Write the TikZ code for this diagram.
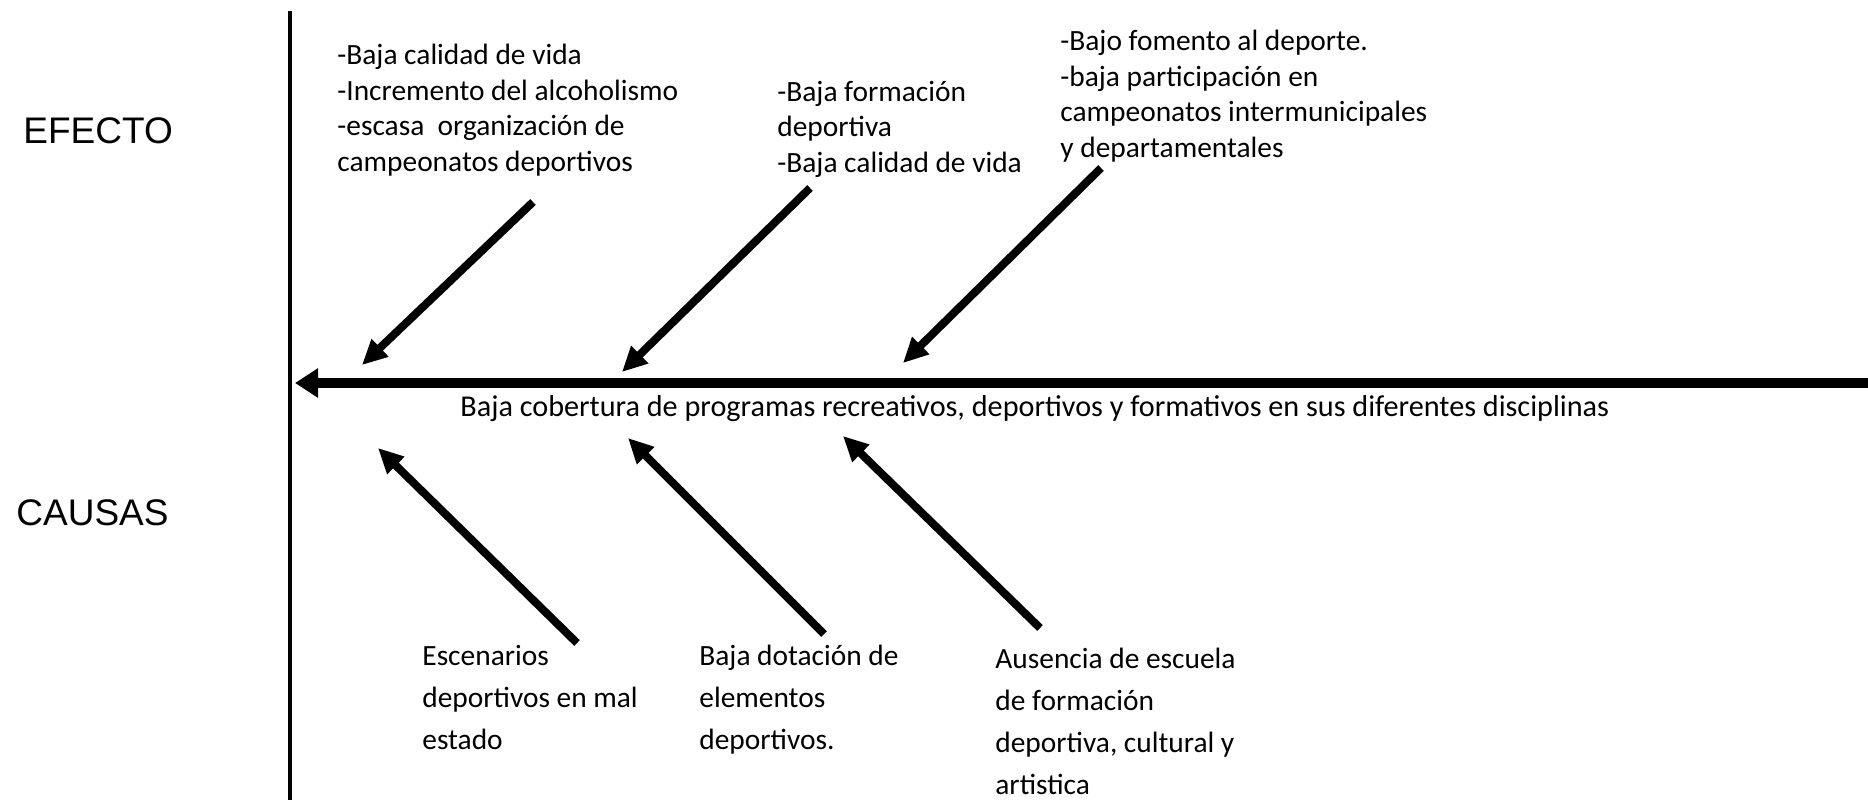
\documentclass[tikz,border=0pt]{standalone}
\usepackage{fontspec}
\setmainfont{Carlito}
\newfontfamily\arialfont{Liberation Sans}
\usetikzlibrary{arrows.meta, positioning}

\begin{document}
\begin{tikzpicture}[
  x=0.5pt, y=-0.5pt,
  efecto/.style={anchor=base west, align=left, inner sep=0pt, font=\fontsize{14.7pt}{17.75pt}\selectfont},
  causa/.style={anchor=base west, align=left, inner sep=0pt, font=\fontsize{14.7pt}{21pt}\selectfont},
  titulo/.style={anchor=base west, inner sep=0pt, font=\arialfont\fontsize{18.5pt}{22pt}\selectfont},
  eje/.style={line width=2.25pt, draw=black},
  espina/.style={-{Triangle[length=11.5pt, width=14pt]}, line width=5pt, draw=black},
  flecha/.style={-{Triangle[length=12.5pt, width=11.5pt]}, line width=4pt, draw=black}
]
\useasboundingbox (0,0) rectangle (1868,800);
% Titulos
\node[titulo] (tefecto) at (23,143) {EFECTO};
\node[titulo] (tcausas) at (16,525) {CAUSAS};
% Eje vertical y espina
\coordinate (ejeA) at (290,11);
\coordinate (ejeB) at (290,800);
\draw[eje] (ejeA) -- (ejeB);
\coordinate (espD) at (1868,383);
\coordinate (espI) at (295,383);
\draw[espina] (espD) -- (espI);
\node[anchor=base west, inner sep=0pt, font=\fontsize{15.1pt}{17.75pt}\selectfont] (problema) at (460,416) {Baja cobertura de programas recreativos, deportivos y formativos en sus diferentes disciplinas};
% Efectos (anclados en la linea base de la ultima linea)
\node[efecto] (ef1) at (337,171) {-Baja calidad de vida\\-Incremento del alcoholismo\\-escasa\ \ organización de\\campeonatos deportivos};
\node[efecto] (ef2) at (777,172) {-Baja formación\\deportiva\\-Baja calidad de vida};
\node[efecto] (ef3) at (1060,157) {-Bajo fomento al deporte.\\-baja participación en\\campeonatos intermunicipales\\y departamentales};
\coordinate (ef1a) at (533,202);
\coordinate (ef1b) at (362,365);
\coordinate (ef2a) at (810,188);
\coordinate (ef2b) at (622,372);
\coordinate (ef3a) at (1101,168);
\coordinate (ef3b) at (903,363);
\draw[flecha] (ef1a) -- (ef1b);
\draw[flecha] (ef2a) -- (ef2b);
\draw[flecha] (ef3a) -- (ef3b);
% Causas
\node[causa] (ca1) at (422,749) {Escenarios\\deportivos en mal\\estado};
\node[causa] (ca2) at (699,749) {Baja dotación de\\elementos\\deportivos.};
\node[causa] (ca3) at (995,794) {Ausencia de escuela\\de formación\\deportiva, cultural y\\artistica};
\coordinate (ca1a) at (577,643);
\coordinate (ca1b) at (378,448);
\coordinate (ca2a) at (824,634);
\coordinate (ca2b) at (628,438);
\coordinate (ca3a) at (1040,628);
\coordinate (ca3b) at (843,436);
\draw[flecha] (ca1a) -- (ca1b);
\draw[flecha] (ca2a) -- (ca2b);
\draw[flecha] (ca3a) -- (ca3b);
\end{tikzpicture}
\end{document}
